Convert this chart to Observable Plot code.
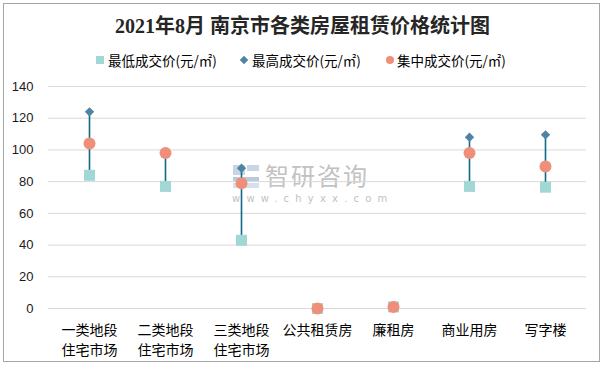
<!DOCTYPE html>
<html>
<head>
<meta charset="utf-8">
<script src="https://cdn.jsdelivr.net/npm/d3@7"></script>
<script src="https://cdn.jsdelivr.net/npm/@observablehq/plot@0.6"></script>
<style>
  html, body { margin: 0; padding: 0; background: #fff; }
  #wrap { position: relative; width: 605px; height: 367px; overflow: hidden; background: #fff;
          font-family: "Noto Sans CJK SC", "Noto Sans", sans-serif; }
  #frame { position: absolute; left: 3px; top: 3px; width: 595px; height: 357px; border: 1px solid #a6a6a6; }
  #title { position: absolute; left: 0; top: 12px; width: 605px; text-align: center;
           font-family: "Liberation Serif", "DejaVu Serif", "Noto Sans CJK SC", serif; font-weight: bold;
           font-size: 20px; color: #262626; line-height: 28px; }
  .leg { position: absolute; top: 51px; font-size: 13.5px; color: #000; line-height: 18px; white-space: nowrap; }
  .sw { position: absolute; }
  #wm { position: absolute; left: 232px; top: 163px; color: #c2c2c2; pointer-events: none; }
  #wm .big { position: absolute; left: 33px; top: -1px; font-size: 24px; letter-spacing: 2px; line-height: 25px; white-space: nowrap; }
  #wm .small { position: absolute; left: 0px; top: 30px; font-size: 10px; line-height: 11px; letter-spacing: 6.2px; white-space: nowrap; font-family: "DejaVu Sans", sans-serif; }
  #chart { position: absolute; left: 0; top: 75px; }
</style>
</head>
<body>
<div id="wrap">
  <div id="frame"></div>
  <div id="title">2021年8月 南京市各类房屋租赁价格统计图</div>
  <div id="legend"></div>
  <div id="wm">
    <svg width="30" height="28" style="position:absolute;left:0;top:0px">
      <rect x="1" y="2" width="12" height="10" fill="#c9d5e6"/>
      <rect x="15" y="2" width="12" height="6" fill="#c9d5e6"/>
      <rect x="1" y="14" width="26" height="4" fill="#b9c9de"/>
      <rect x="1" y="20" width="26" height="5" fill="#d6dfec"/>
    </svg>
    <div class="big">智研咨询</div>
    <div class="small">www.chyxx.com</div>
  </div>
  <div id="chart"></div>
</div>
<script>
const categories = ["一类地段住宅市场", "二类地段住宅市场", "三类地段住宅市场", "公共租赁房", "廉租房", "商业用房", "写字楼"];
const tickLabels = ["一类地段\n住宅市场", "二类地段\n住宅市场", "三类地段\n住宅市场", "公共租赁房", "廉租房", "商业用房", "写字楼"];
const minPrice = [84, 77, 43, 0, 1, 77, 76.5];
const maxPrice = [124, 98, 88.5, 0, 1, 108, 109.5];
const midPrice = [104, 98, 79, 0, 1, 98, 89.5];
const yTicks = [0, 20, 40, 60, 80, 100, 120, 140];
const seriesNames = ["最低成交价(元/㎡)", "最高成交价(元/㎡)", "集中成交价(元/㎡)"];

const colors = { min: "#a1d7d5", max: "#4f83a3", mid: "#ef8f79", line: "#11688a" };

const rows = categories.map((c, i) => ({ cat: c, min: minPrice[i], max: maxPrice[i], mid: midPrice[i] }));
const labelOf = new Map(categories.map((c, i) => [c, tickLabels[i]]));

const chart = Plot.plot({
  width: 605,
  height: 292,
  marginLeft: 48,
  marginRight: 19,
  marginTop: 11,
  marginBottom: 59,
  style: { fontFamily: "'Noto Sans CJK SC', 'Noto Sans', sans-serif", background: "transparent", overflow: "visible" },
  x: { type: "point", domain: categories, padding: 0.5 },
  y: { domain: [0, 140] },
  marks: [
    Plot.ruleY(yTicks, { stroke: "#d9d9d9", strokeWidth: 1 }),
    Plot.axisY({ ticks: yTicks, tickSize: 0, tickPadding: 15, fontSize: 13, label: null, color: "#1a1a1a",
                 fontFamily: "'Liberation Sans', Arial, sans-serif" }),
    Plot.axisX({ tickSize: 0, tickPadding: 12, fontSize: 14, lineHeight: 1.43, label: null, color: "#000",
                 tickFormat: d => labelOf.get(d) }),
    Plot.ruleX(rows, { x: "cat", y1: "min", y2: "max", stroke: colors.line, strokeWidth: 1.6 }),
    Plot.dot(rows, { x: "cat", y: "min", symbol: "square", r: 6.2, fill: colors.min }),
    Plot.dot(rows, { x: "cat", y: "max", symbol: "diamond2", r: 4.2, fill: colors.max }),
    Plot.dot(rows, { x: "cat", y: "mid", symbol: "circle", r: 6, fill: colors.mid })
  ]
});
document.getElementById("chart").appendChild(chart);

// legend
const legend = document.getElementById("legend");
const legItems = [
  { name: seriesNames[0], x: 96, tx: 108, shape: "square", color: colors.min },
  { name: seriesNames[1], x: 240, tx: 252, shape: "diamond", color: colors.max },
  { name: seriesNames[2], x: 386, tx: 397, shape: "circle", color: colors.mid }
];
legItems.forEach(it => {
  const sw = document.createElement("div");
  sw.className = "sw";
  let style = `background:${it.color};`;
  if (it.shape === "square") style += `left:${it.x}px;top:56px;width:8px;height:8px;`;
  if (it.shape === "diamond") style += `left:${it.x + 1}px;top:57px;width:6px;height:6px;transform:rotate(45deg);`;
  if (it.shape === "circle") style += `left:${it.x}px;top:56px;width:8px;height:8px;border-radius:50%;`;
  sw.setAttribute("style", style);
  legend.appendChild(sw);
  const t = document.createElement("div");
  t.className = "leg";
  t.style.left = it.tx + "px";
  t.textContent = it.name;
  legend.appendChild(t);
});
</script>
</body>
</html>
